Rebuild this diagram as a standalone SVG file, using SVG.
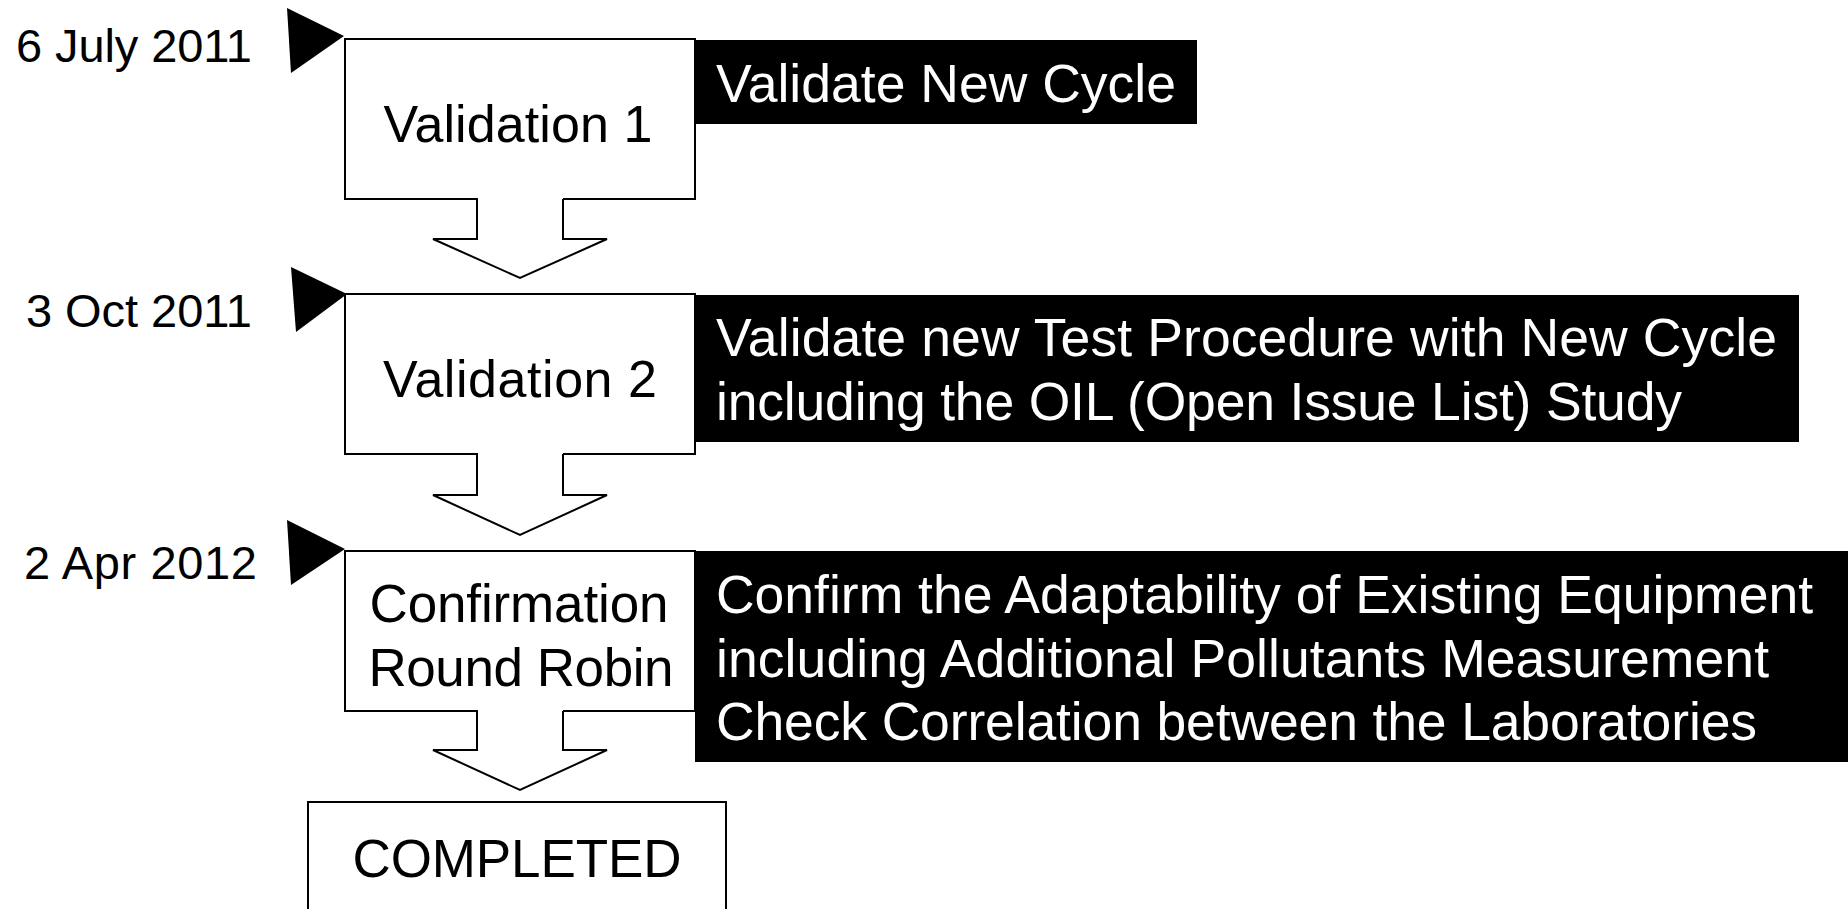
<svg xmlns="http://www.w3.org/2000/svg" width="1848" height="909" viewBox="0 0 1848 909">
<style>
.box{fill:#fff;stroke:#000;stroke-width:2}
.note{fill:#000}
.flag{fill:#000}
.t{font-family:"Liberation Sans",Arial,sans-serif;fill:#000}
.w{font-family:"Liberation Sans",Arial,sans-serif;fill:#fff;font-size:53.5px}
.date{font-size:47px}
.lbl{font-size:52px;text-anchor:middle}
.arrfill{fill:#fff;stroke:none}
.arrline{fill:none;stroke:#000;stroke-width:2;stroke-linejoin:miter}
</style>
<rect width="1848" height="909" fill="#fff"/>
<g id="node-validation1">
<rect class="box" x="345" y="39" width="350" height="160"/>
<text class="t lbl" x="518" y="142" textLength="269">Validation 1</text>
</g>
<g id="node-validation2">
<rect class="box" x="345" y="294" width="350" height="160"/>
<text class="t lbl" x="520" y="397" textLength="274">Validation 2</text>
</g>
<g id="node-confirmation">
<rect class="box" x="345" y="551" width="350" height="160"/>
<text class="t lbl" x="519" y="622" style="font-size:53px" textLength="299">Confirmation</text>
<text class="t lbl" x="521" y="686" style="font-size:53px" textLength="305">Round Robin</text>
</g>
<g id="node-completed">
<rect class="box" x="308" y="802" width="418" height="140"/>
<text class="t lbl" x="517" y="877" style="font-size:53px" textLength="329">COMPLETED</text>
</g>
<g id="note-1">
<rect class="note" x="695" y="40" width="502" height="84"/>
<text class="w" x="716" y="102" textLength="460">Validate New Cycle</text>
</g>
<g id="note-2">
<rect class="note" x="695" y="295" width="1104" height="147"/>
<text class="w" x="716" y="356" textLength="1061">Validate new Test Procedure with New Cycle</text>
<text class="w" x="716" y="420" textLength="966">including the OIL (Open Issue List) Study</text>
</g>
<g id="note-3">
<rect class="note" x="695" y="551" width="1153" height="211"/>
<text class="w" x="716" y="613" textLength="1097">Confirm the Adaptability of Existing Equipment</text>
<text class="w" x="716" y="677" textLength="1053">including Additional Pollutants Measurement</text>
<text class="w" x="716" y="740" textLength="1041">Check Correlation between the Laboratories</text>
</g>
<g id="date-1">
<polygon class="flag" points="287,8 344,36 291,73"/>
<text class="t date" x="16" y="62" textLength="236">6 July 2011</text>
</g>
<g id="date-2">
<polygon class="flag" points="291,267 347,294 296,332"/>
<text class="t date" x="26" y="327" textLength="226">3 Oct 2011</text>
</g>
<g id="date-3">
<polygon class="flag" points="287,520 345,549 291,585"/>
<text class="t date" x="24" y="579" textLength="233">2 Apr 2012</text>
</g>
<g id="connectors">
<polygon class="arrfill" points="478,197 478,239 433,239 520,278 607,239 563,239 563,197"/>
<polyline class="arrline" points="477,199 477,239 433,239 520,278 607,239 563,239 563,199"/>
<polygon class="arrfill" points="478,452 478,495 433,495 520,535 607,495 563,495 563,452"/>
<polyline class="arrline" points="477,454 477,495 433,495 520,535 607,495 563,495 563,454"/>
<polygon class="arrfill" points="478,709 478,750 433,750 520,790 607,750 563,750 563,709"/>
<polyline class="arrline" points="477,711 477,750 433,750 520,790 607,750 563,750 563,711"/>
</g>
</svg>
